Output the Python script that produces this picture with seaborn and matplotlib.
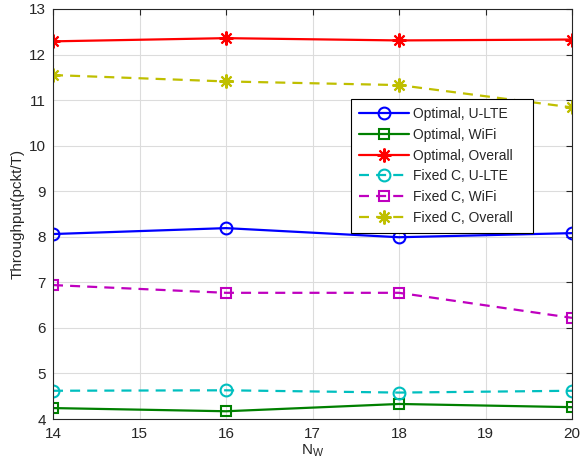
import matplotlib
matplotlib.use("Agg")
import matplotlib.pyplot as plt
import seaborn as sns
import pandas as pd

# data
n_w = [14, 16, 18, 20]
opt_ulte = [8.06, 8.19, 7.99, 8.08]
opt_wifi = [4.24, 4.17, 4.33, 4.26]
opt_overall = [12.29, 12.36, 12.31, 12.33]
fix_ulte = [4.62, 4.63, 4.58, 4.62]
fix_wifi = [6.94, 6.77, 6.77, 6.22]
fix_overall = [11.55, 11.41, 11.33, 10.84]

series_names = [
    "Optimal, U-LTE", "Optimal, WiFi", "Optimal, Overall",
    "Fixed C, U-LTE", "Fixed C, WiFi", "Fixed C, Overall",
]
series_values = [opt_ulte, opt_wifi, opt_overall, fix_ulte, fix_wifi, fix_overall]

sns.set_style("white")
plt.rcParams["font.family"] = ["Liberation Sans", "DejaVu Sans"]

colors = ["#0000ff", "#008000", "#ff0000", "#00bfbf", "#bf00bf", "#bfbf00"]
asterisk = (8, 2, 0)
markers = ["o", "s", asterisk, "o", "s", asterisk]
msizes = [8.5, 7.5, 10, 8.5, 7.5, 10]
dashed = [False, False, False, True, True, True]

fig = plt.figure(figsize=(5.81, 4.73), dpi=100)
ax = fig.add_axes([53 / 581, 1 - 419 / 473, 519 / 581, 410 / 473])

for name, vals, c, m, ms, d in zip(series_names, series_values, colors, markers, msizes, dashed):
    df = pd.DataFrame({"N_W": n_w, "thr": vals})
    # trailing spaces give the MATLAB-like right padding in the legend box
    sns.lineplot(data=df, x="N_W", y="thr", ax=ax, color=c, marker=m,
                 markersize=ms, markerfacecolor="none", markeredgecolor=c,
                 markeredgewidth=1.5, linewidth=1.6, label=name + "   ")
    ln = ax.lines[-1]
    if d:
        ln.set_dashes((4.5, 3.2))

ax.set_xlim(14, 20)
ax.set_ylim(4, 13)
ax.set_xticks(range(14, 21))
ax.set_yticks(range(4, 14))
ax.grid(True, color="#dcdcdc", linewidth=0.8)
ax.set_axisbelow(True)
for s in ax.spines.values():
    s.set_color("#262626")
    s.set_linewidth(0.8)
ax.tick_params(direction="in", top=True, right=True, length=4, width=0.8,
               labelsize=11, colors="#262626")
ax.tick_params(axis="x", pad=6)
ax.tick_params(axis="y", pad=5)
ax.set_xlabel("N$_\\mathregular{W}$", fontsize=11, color="#262626", labelpad=1)
ax.set_ylabel("Throughput(pckt/T)", fontsize=11, color="#262626", labelpad=3)

leg = ax.legend(loc="upper right", bbox_to_anchor=(533 / 581, 1 - 99 / 473),
                bbox_transform=fig.transFigure, fancybox=False, framealpha=1,
                edgecolor="black", fontsize=10, handlelength=3.6,
                borderpad=0.6, labelspacing=0.48, handletextpad=0.3,
                borderaxespad=0)
leg.get_frame().set_linewidth(0.8)

fig.savefig("out.png", dpi=100)
